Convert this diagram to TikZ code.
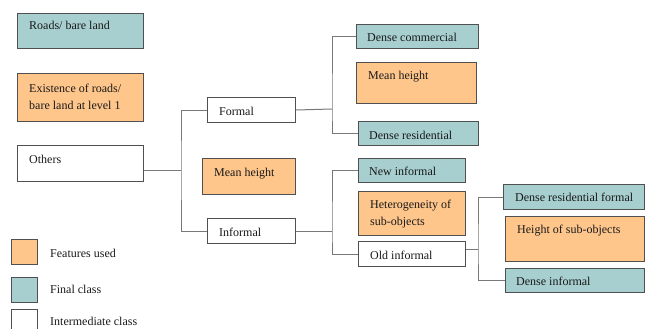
\documentclass[tikz,border=0pt]{standalone}
\usepackage{fontspec}
\setmainfont{Liberation Serif}
\definecolor{teal1}{RGB}{168,207,207}
\definecolor{orng}{RGB}{255,198,140}
\definecolor{bord}{RGB}{80,80,80}
\definecolor{conn}{RGB}{120,120,120}
\begin{document}
\begin{tikzpicture}[x=1pt,y=-1pt,
  box/.style={draw=bord,line width=1pt,anchor=north west,inner sep=0pt},
  fin/.style={box,fill=teal1},
  feat/.style={box,fill=orng},
  inter/.style={box,fill=white},
  txt/.style={anchor=base west,inner sep=0pt,font=\fontsize{12}{17}\selectfont,align=left,text=black!90},
  cn/.style={draw=conn,line width=1pt}]
\useasboundingbox (0,0) rectangle (648,329);
% left column
\node[fin,minimum width=126pt,minimum height=35pt] (roads) at (17,13) {};
\node[txt] (roadsT) at ([shift={(12,17)}]roads.north west) {Roads/ bare land};
\node[feat,minimum width=126pt,minimum height=48pt] (exist) at (17,73) {};
\node[txt] (existT) at ([shift={(12,36)}]exist.north west) {Existence of roads/\\bare land at level 1};
\node[inter,minimum width=126pt,minimum height=36pt] (others) at (17,145) {};
\node[txt] (othersT) at ([shift={(12,18)}]others.north west) {Others};
% second column
\node[inter,minimum width=88pt,minimum height=25pt] (formal) at (207,97) {};
\node[txt] (formalT) at ([shift={(12,18)}]formal.north west) {Formal};
\node[feat,minimum width=93pt,minimum height=36pt] (mh2) at (202,158) {};
\node[txt] (mh2T) at ([shift={(12,18)}]mh2.north west) {Mean height};
\node[inter,minimum width=88pt,minimum height=25pt] (informal) at (207,218) {};
\node[txt] (informalT) at ([shift={(12,18)}]informal.north west) {Informal};
% third column
\node[fin,minimum width=122pt,minimum height=24pt] (dcom) at (356,24) {};
\node[txt] (dcomT) at ([shift={(11,18)}]dcom.north west) {Dense commercial};
\node[feat,minimum width=120pt,minimum height=41pt] (mh1) at (356,62) {};
\node[txt] (mh1T) at ([shift={(12,17)}]mh1.north west) {Mean height};
\node[fin,minimum width=120pt,minimum height=24pt] (dres) at (358,121) {};
\node[txt] (dresT) at ([shift={(11,18)}]dres.north west) {Dense residential};
\node[fin,minimum width=107pt,minimum height=24pt] (newinf) at (358,158) {};
\node[txt] (newinfT) at ([shift={(11,17)}]newinf.north west) {New informal};
\node[feat,minimum width=107pt,minimum height=44pt] (het) at (358,191) {};
\node[txt] (hetT) at ([shift={(12,34)}]het.north west) {Heterogeneity of\\sub-objects};
\node[inter,minimum width=107pt,minimum height=25pt] (oldinf) at (358,241) {};
\node[txt] (oldinfT) at ([shift={(12,18)}]oldinf.north west) {Old informal};
% fourth column
\node[fin,minimum width=141pt,minimum height=25pt] (drf) at (503,184) {};
\node[txt] (drfT) at ([shift={(12,17)}]drf.north west) {Dense residential formal};
\node[feat,minimum width=139pt,minimum height=45pt] (hso) at (505,216) {};
\node[txt] (hsoT) at ([shift={(12,17)}]hso.north west) {Height of sub-objects};
\node[fin,minimum width=139pt,minimum height=24pt] (dinf) at (505,268) {};
\node[txt] (dinfT) at ([shift={(11,17)}]dinf.north west) {Dense informal};
% connectors
\coordinate (j1) at (181,170);
\coordinate (j2) at (332,109);
\coordinate (j3) at (332,231);
\coordinate (j4) at (478,249);
\draw[cn] (others.east |- j1) -- (j1);
\draw[cn] (formal.west) -| (j1) |- (informal.west);
\draw[cn] (formal.east) -- (j2);
\draw[cn] (dcom.west) -| (j2) |- (dres.west);
\draw[cn] (informal.east) -- (j3);
\draw[cn] (newinf.west) -| (j3) |- (oldinf.west);
\draw[cn] (oldinf.east |- j4) -- (j4);
\draw[cn] (drf.west) -| (j4) |- (dinf.west);
% legend
\node[feat,minimum width=26pt,minimum height=25pt] (lg1) at (11,239) {};
\node[txt] (lg1T) at (50,257) {Features used};
\node[fin,minimum width=26pt,minimum height=25pt] (lg2) at (11,277) {};
\node[txt] (lg2T) at (50,293) {Final class};
\node[inter,minimum width=26pt,minimum height=25pt] (lg3) at (11,309) {};
\node[txt] (lg3T) at (50,325) {Intermediate class};
\end{tikzpicture}
\end{document}
